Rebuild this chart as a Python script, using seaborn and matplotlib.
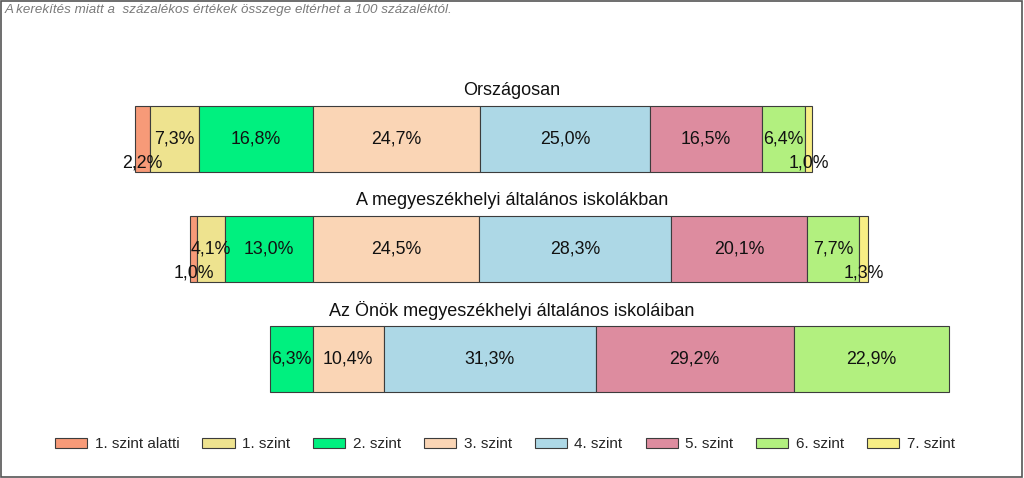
import matplotlib
matplotlib.use('Agg')
import matplotlib.pyplot as plt
import matplotlib.patches as mpatches
import numpy as np
import pandas as pd
import seaborn as sns

groups = ['Országosan',
          'A megyeszékhelyi általános iskolákban',
          'Az Önök megyeszékhelyi általános iskoláiban']
levels = ['1. szint alatti', '1. szint', '2. szint', '3. szint',
          '4. szint', '5. szint', '6. szint', '7. szint']
orszagos = [2.2, 7.3, 16.8, 24.7, 25.0, 16.5, 6.4, 1.0]
megye = [1.0, 4.1, 13.0, 24.5, 28.3, 20.1, 7.7, 1.3]
onok = [0.0, 0.0, 6.3, 10.4, 31.3, 29.2, 22.9, 0.0]
colors = ['#F79A78', '#EEE38F', '#00F07F', '#FAD5B5',
          '#ADD8E6', '#DD8C9F', '#B2F07F', '#F7EE85']
note = 'A kerekítés miatt a  százalékos értékek összege eltérhet a 100 százaléktól.'

data = pd.DataFrame([orszagos, megye, onok], index=groups, columns=levels)

sns.set_theme(style='white')
plt.rcParams['font.family'] = ['Liberation Sans', 'DejaVu Sans']
palette = sns.color_palette(colors)

fig = plt.figure(figsize=(10.24, 4.78), dpi=100)
ax = fig.add_axes([0, 0, 1, 1])

# x = 0 sits at the boundary between 2. and 3. szint
px_per_pct = 6.78
ax.set_xlim(-313 / px_per_pct, (1024 - 313) / px_per_pct)
ax.set_ylim((478 - 139) / 110, -139 / 110)
ax.axis('off')

edge = '#3c3c3c'
for i, group in enumerate(groups):
    row = data.loc[group].values
    left = -row[:3].sum()
    for j, v in enumerate(row):
        if v > 0:
            ax.barh(i, v, left=left, height=0.6, color=palette[j],
                    edgecolor=edge, linewidth=0.8)
            lab = f'{v:.1f}'.replace('.', ',') + '%'
            ly = i + 0.22 if v < 3 else i
            ax.text(left + v / 2, ly, lab, ha='center', va='center',
                    fontsize=12.8, color='#111111')
        left += v
    ax.text(0.5, i - 0.44, group, transform=ax.get_yaxis_transform(),
            ha='center', va='center', fontsize=13, color='#111111')

handles = [mpatches.Patch(facecolor=palette[j], edgecolor=edge, linewidth=0.8,
                          label=levels[j]) for j in range(len(levels))]
fig.legend(handles=handles, loc='center', ncol=8, frameon=False,
           bbox_to_anchor=(505 / 1024, 1 - 444 / 478), fontsize=11,
           handlelength=2.1, handleheight=0.65, handletextpad=0.5,
           columnspacing=1.5)

fig.text(5 / 1024, 1 - 10 / 478, note, ha='left', va='center',
         fontsize=9.6, style='italic', color='#7a7a7a')

fig.patches.append(mpatches.Rectangle((0.001, 0.002), 0.997, 0.995,
                                      transform=fig.transFigure, fill=False,
                                      edgecolor='#555555', linewidth=1.2))

fig.savefig('out.png', dpi=100)
